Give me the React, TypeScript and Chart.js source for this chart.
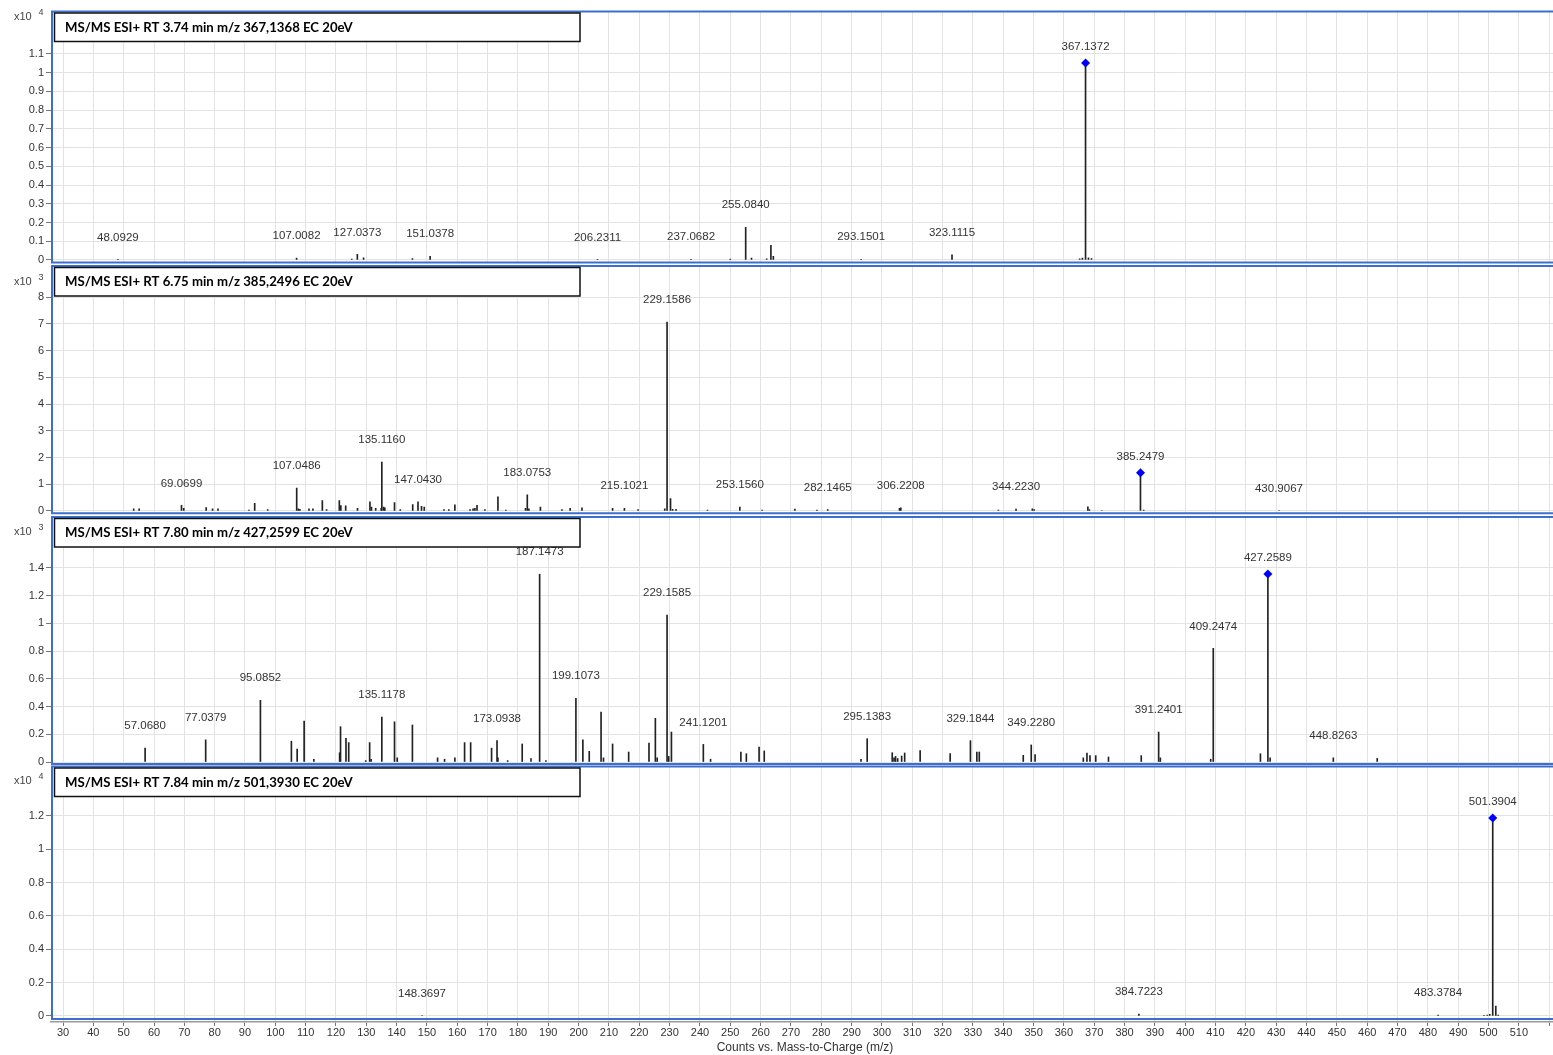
import { useEffect, useRef } from 'react';
import { Chart, registerables } from 'chart.js';

Chart.register(...registerables);

const W = 1553;
const H = 1055;

// ---- Titles and exponents ----
const titles = [
  'MS/MS ESI+ RT 3.74 min m/z 367,1368 EC 20eV',
  'MS/MS ESI+ RT 6.75 min m/z 385,2496 EC 20eV',
  'MS/MS ESI+ RT 7.80 min m/z 427,2599 EC 20eV',
  'MS/MS ESI+ RT 7.84 min m/z 501,3930 EC 20eV',
];
const exponents = ['4', '3', '3', '4'];

// ---- Axis ticks ----
const xTickValues = [30, 40, 50, 60, 70, 80, 90, 100, 110, 120, 130, 140, 150, 160, 170, 180, 190, 200, 210, 220, 230, 240, 250, 260, 270, 280, 290, 300, 310, 320, 330, 340, 350, 360, 370, 380, 390, 400, 410, 420, 430, 440, 450, 460, 470, 480, 490, 500, 510, 520];
const yTicks1 = [0, 0.1, 0.2, 0.3, 0.4, 0.5, 0.6, 0.7, 0.8, 0.9, 1, 1.1];
const yTicks2 = [0, 1, 2, 3, 4, 5, 6, 7, 8];
const yTicks3 = [0, 0.2, 0.4, 0.6, 0.8, 1, 1.2, 1.4];
const yTicks4 = [0, 0.2, 0.4, 0.6, 0.8, 1, 1.2];

// ---- Panel 1 (x10^4) ----
const mz1 = [48.0929, 107.0082, 125.2, 127.0373, 129.1, 145.2, 151.0378, 206.2311, 237.0682, 250.0, 255.084, 257.0, 262.0, 263.4, 264.2, 293.1501, 323.1115, 365.2, 366.1, 367.1372, 368.1, 369.1];
const int1 = [0.002, 0.01, 0.005, 0.03, 0.012, 0.008, 0.02, 0.003, 0.004, 0.005, 0.175, 0.01, 0.006, 0.078, 0.02, 0.004, 0.027, 0.006, 0.01, 1.052, 0.012, 0.008];
const labels1 = [48.0929, 107.0082, 127.0373, 151.0378, 206.2311, 237.0682, 255.084, 293.1501, 323.1115, 367.1372];
const precMz1 = [367.1372];
const precInt1 = [1.052];

// ---- Panel 2 (x10^3) ----
const mz2 = [53.3, 55.1, 69.0699, 69.8, 77.2, 79.3, 81.1, 91.3, 93.2, 97.5, 107.0486, 107.6, 108.1, 111.1, 112.4, 115.5, 116.9, 121.1, 121.6, 123.2, 127.1, 131.2, 131.7, 133.1, 134.9, 135.116, 135.7, 136.1, 139.3, 141.2, 145.3, 147.043, 148.2, 149.1, 155.6, 157.2, 159.2, 164.2, 165.2, 165.8, 166.5, 169.1, 173.4, 176.0, 182.5, 183.0753, 183.6, 187.4, 194.5, 197.2, 201.1, 211.2, 215.1021, 219.6, 228.4, 229.1586, 230.3, 231.0, 232.1, 242.5, 253.156, 260.5, 271.3, 278.6, 282.1465, 305.8, 306.2208, 338.4, 344.223, 349.6, 350.2, 367.9, 368.4, 372.5, 385.2479, 386.3, 430.9067];
const int2 = [0.08, 0.08, 0.21, 0.1, 0.13, 0.08, 0.08, 0.03, 0.29, 0.05, 0.86, 0.08, 0.06, 0.08, 0.08, 0.39, 0.05, 0.39, 0.2, 0.19, 0.1, 0.34, 0.15, 0.1, 0.1, 1.83, 0.15, 0.12, 0.31, 0.05, 0.24, 0.34, 0.17, 0.15, 0.05, 0.05, 0.23, 0.05, 0.08, 0.1, 0.21, 0.05, 0.53, 0.03, 0.1, 0.6, 0.08, 0.15, 0.05, 0.1, 0.12, 0.1, 0.1, 0.05, 0.08, 7.07, 0.46, 0.06, 0.06, 0.03, 0.15, 0.03, 0.07, 0.03, 0.05, 0.1, 0.12, 0.03, 0.07, 0.08, 0.05, 0.16, 0.05, 0.02, 1.43, 0.03, 0.02];
const labels2 = [69.0699, 107.0486, 135.116, 147.043, 183.0753, 215.1021, 229.1586, 253.156, 282.1465, 306.2208, 344.223, 385.2479, 430.9067];
const precMz2 = [385.2479];
const precInt2 = [1.43];

// ---- Panel 3 (x10^3) ----
const mz3 = [57.068, 77.0379, 95.0852, 105.3, 107.2, 109.5, 112.7, 121.2, 121.5, 123.3, 124.2, 129.8, 131.1, 131.6, 135.1178, 139.3, 140.2, 145.2, 153.5, 155.8, 159.2, 162.4, 164.4, 171.3, 173.0938, 173.4, 176.6, 181.4, 184.3, 187.1473, 189.2, 199.1073, 201.4, 203.5, 207.4, 208.2, 211.2, 216.5, 223.2, 225.3, 225.9, 229.1585, 229.7, 230.6, 241.1201, 243.5, 253.5, 255.3, 259.5, 261.2, 293.1, 295.1383, 303.4, 304.0, 304.5, 305.2, 306.5, 307.5, 312.6, 322.5, 329.1844, 331.3, 332.1, 346.6, 349.228, 350.5, 366.4, 367.6, 368.6, 370.5, 374.7, 385.5, 391.2401, 391.8, 408.4, 409.2474, 424.8, 427.2589, 428.0, 448.8263, 463.3];
const int3 = [0.1, 0.16, 0.445, 0.15, 0.094, 0.296, 0.02, 0.067, 0.255, 0.17, 0.14, 0.01, 0.14, 0.02, 0.325, 0.29, 0.03, 0.267, 0.03, 0.02, 0.03, 0.14, 0.14, 0.1, 0.155, 0.03, 0.01, 0.13, 0.025, 1.355, 0.01, 0.46, 0.16, 0.077, 0.36, 0.03, 0.13, 0.072, 0.137, 0.315, 0.03, 1.06, 0.04, 0.216, 0.127, 0.02, 0.072, 0.06, 0.108, 0.08, 0.02, 0.168, 0.067, 0.03, 0.04, 0.025, 0.043, 0.065, 0.082, 0.06, 0.154, 0.072, 0.072, 0.048, 0.123, 0.053, 0.03, 0.065, 0.046, 0.046, 0.036, 0.046, 0.216, 0.03, 0.02, 0.82, 0.06, 1.357, 0.03, 0.03, 0.026];
const labels3 = [57.068, 77.0379, 95.0852, 135.1178, 173.0938, 187.1473, 199.1073, 229.1585, 241.1201, 295.1383, 329.1844, 349.228, 391.2401, 409.2474, 427.2589, 448.8263];
const precMz3 = [427.2589];
const precInt3 = [1.357];

// ---- Panel 4 (x10^4) ----
const mz4 = [148.3697, 384.7223, 483.3784, 498.5, 499.6, 500.4, 501.3904, 502.4, 503.2];
const int4 = [0.003, 0.012, 0.005, 0.004, 0.006, 0.01, 1.188, 0.06, 0.005];
const labels4 = [148.3697, 384.7223, 483.3784, 501.3904];
const precMz4 = [501.3904];
const precInt4 = [1.188];

// ---- layout (pixel geometry of each panel) ----
const X_MIN = 26.04;
const X_MAX = 521.26;
const panels = [
  { title: titles[0], exp: exponents[0], mz: mz1, inten: int1, labels: labels1, precMz: precMz1, precInt: precInt1, yTicks: yTicks1, top: 11.5, bottom: 262.5, frameBottom: 262.5, yMin: -0.0134, yMax: 1.3268, x10Y: 16.5, showX: false },
  { title: titles[1], exp: exponents[1], mz: mz2, inten: int2, labels: labels2, precMz: precMz2, precInt: precInt2, yTicks: yTicks2, top: 266, bottom: 513.3, frameBottom: 513.3, yMin: -0.0864, yMax: 9.1643, x10Y: 282, showX: false },
  { title: titles[2], exp: exponents[2], mz: mz3, inten: int3, labels: labels3, precMz: precMz3, precInt: precInt3, yTicks: yTicks3, top: 517, bottom: 764, frameBottom: 764, yMin: -0.01443, yMax: 1.7677, x10Y: 532, showX: false },
  { title: titles[3], exp: exponents[3], mz: mz4, inten: int4, labels: labels4, precMz: precMz4, precInt: precInt4, yTicks: yTicks4, top: 766.5, bottom: 1022, frameBottom: 1019, yMin: -0.036, yMax: 1.4967, x10Y: 781, showX: true },
];

const TICK_FONT = '"Liberation Sans", Arial, sans-serif';
const BLUE = '#3d6fcf';

function makePlugin(p: any) {
  return {
    id: 'panelDeco',
    afterDatasetsDraw(chart: any) {
      const ctx = chart.ctx;
      const xs = chart.scales.x;
      const ys = chart.scales.y;
      ctx.save();
      ctx.font = `11.5px ${TICK_FONT}`;
      ctx.fillStyle = '#333';
      ctx.textAlign = 'center';
      ctx.textBaseline = 'middle';
      p.labels.forEach((m: number) => {
        const idx = p.mz.indexOf(m);
        const v = idx >= 0 ? p.inten[idx] : 0;
        const isPrec = p.precMz.indexOf(m) >= 0;
        const off = isPrec ? 16 : 22;
        ctx.fillText(m.toFixed(4), xs.getPixelForValue(m), ys.getPixelForValue(v) - off);
      });
      ctx.restore();
    },
    afterDraw(chart: any) {
      const ctx = chart.ctx;
      ctx.save();
      // blue frame
      ctx.strokeStyle = BLUE;
      ctx.lineWidth = 2;
      ctx.beginPath();
      ctx.moveTo(W + 2, p.top);
      ctx.lineTo(52, p.top);
      ctx.lineTo(52, p.frameBottom);
      ctx.lineTo(W + 2, p.frameBottom);
      ctx.stroke();
      // title box
      ctx.fillStyle = '#fff';
      ctx.fillRect(54.5, p.top + 1.5, 525.5, 28.5);
      ctx.strokeStyle = '#111';
      ctx.lineWidth = 1.5;
      ctx.strokeRect(54.5, p.top + 1.5, 525.5, 28.5);
      ctx.fillStyle = '#000';
      ctx.font = 'bold 13.2px Lato, "Liberation Sans", sans-serif';
      ctx.textAlign = 'left';
      ctx.textBaseline = 'middle';
      ctx.fillText(p.title, 65, p.top + 16);
      // x10^n
      ctx.fillStyle = '#444';
      ctx.font = `11px ${TICK_FONT}`;
      ctx.fillText('x10', 14, p.x10Y);
      ctx.font = `9px ${TICK_FONT}`;
      ctx.fillText(p.exp, 38.5, p.x10Y - 4);
      if (p.showX) {
        ctx.fillStyle = '#333';
        ctx.font = `12px ${TICK_FONT}`;
        ctx.textAlign = 'center';
        ctx.fillText('Counts vs. Mass-to-Charge (m/z)', 805, 1048);
      }
      ctx.restore();
    },
  };
}

export default function App() {
  const refs = useRef<(HTMLCanvasElement | null)[]>([]);

  useEffect(() => {
    const charts: Chart[] = [];
    panels.forEach((p, i) => {
      const canvas = refs.current[i];
      if (!canvas) return;
      const xAxisH = p.showX ? H - p.bottom : 0;
      const cfg: any = {
        type: 'bar',
        data: {
          datasets: [
            {
              type: 'scatter',
              data: p.precMz.map((m, k) => ({ x: m, y: p.precInt[k] })),
              pointStyle: 'rectRot',
              pointRadius: 4.5,
              backgroundColor: '#0000ff',
              borderColor: '#0000ff',
              borderWidth: 0,
              clip: false,
              order: 1,
            },
            {
              type: 'bar',
              data: p.mz.map((m, k) => ({ x: m, y: p.inten[k] })),
              backgroundColor: '#222',
              borderWidth: 0,
              barThickness: 1,
              grouped: false,
              order: 2,
            },
          ],
        },
        options: {
          responsive: false,
          animation: false,
          devicePixelRatio: 1,
          layout: { autoPadding: false, padding: { top: p.top, bottom: p.showX ? 0 : H - p.bottom, left: 0, right: 0 } },
          plugins: { legend: { display: false }, tooltip: { enabled: false } },
          scales: {
            x: {
              type: 'linear',
              min: X_MIN,
              max: X_MAX,
              offset: false,
              afterBuildTicks: (s: any) => {
                s.ticks = xTickValues.map((v) => ({ value: v }));
              },
              afterFit: (s: any) => {
                s.height = xAxisH;
              },
              ticks: {
                display: p.showX,
                autoSkip: false,
                maxRotation: 0,
                minRotation: 0,
                padding: 0,
                color: '#333',
                font: { family: TICK_FONT, size: 11 },
                callback: (v: any) => (v === 520 ? '' : String(v)),
              },
              grid: {
                color: '#e3e3e3',
                offset: false,
                drawTicks: p.showX,
                tickLength: 4,
                tickColor: '#777',
              },
              border: { display: p.showX, color: '#9a9a9a', width: 1.5 },
            },
            y: {
              type: 'linear',
              min: p.yMin,
              max: p.yMax,
              afterBuildTicks: (s: any) => {
                s.ticks = p.yTicks.map((v) => ({ value: v }));
              },
              afterFit: (s: any) => {
                s.width = 51;
              },
              ticks: {
                autoSkip: false,
                padding: 2,
                color: '#333',
                font: { family: TICK_FONT, size: 11 },
                callback: (v: any) => String(v),
              },
              grid: { color: '#e3e3e3', drawTicks: true, tickLength: 5, tickColor: '#777' },
              border: { display: false },
            },
          },
        },
        plugins: [makePlugin(p)],
      };
      charts.push(new Chart(canvas, cfg));
    });
    return () => charts.forEach((c) => c.destroy());
  }, []);

  return (
    <div style={{ position: 'fixed', left: 0, top: 0, width: W, height: H, overflow: 'hidden', background: '#fff' }}>
      {panels.map((_, i) => (
        <canvas
          key={i}
          ref={(el) => {
            refs.current[i] = el;
          }}
          width={W}
          height={H}
          style={{ position: 'absolute', left: 0, top: 0, width: W, height: H }}
        />
      ))}
    </div>
  );
}
